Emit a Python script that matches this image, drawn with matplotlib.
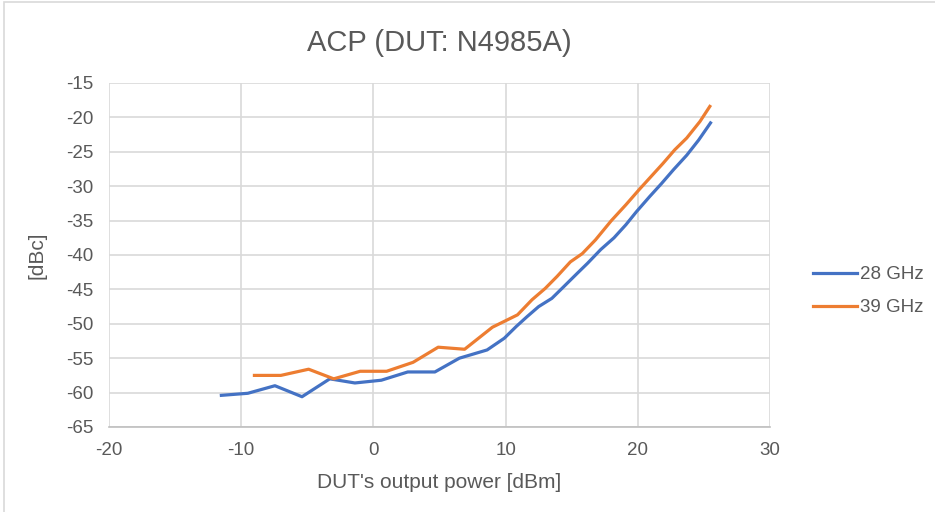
import matplotlib.pyplot as plt
from matplotlib.patches import Rectangle

# ACP vs. DUT output power, two carrier frequencies
p28 = [-11.5, -9.5, -7.45, -5.4, -3.3, -1.4, 0.6, 2.6, 4.65, 6.5, 8.6, 9.9,
       10.8, 11.6, 12.5, 13.5, 14.4, 15.4, 16.2, 17.2, 18.2, 19.1, 19.9,
       20.9, 21.8, 22.7, 23.7, 24.6, 25.5]
acp28 = [-60.4, -60.1, -59.0, -60.6, -58.0, -58.6, -58.2, -57.0, -57.0, -55.0,
         -53.8, -52.1, -50.4, -49.0, -47.5, -46.3, -44.6, -42.7, -41.2, -39.2,
         -37.5, -35.6, -33.7, -31.5, -29.6, -27.6, -25.5, -23.3, -20.8]

p39 = [-9.0, -7.0, -4.9, -3.0, -1.0, 1.0, 3.0, 4.9, 6.9, 9.0, 10.9, 12.0,
       13.0, 13.9, 14.9, 15.8, 16.8, 18.0, 19.1, 20.1, 21.0, 21.9, 22.8,
       23.7, 24.7, 25.45]
acp39 = [-57.5, -57.5, -56.6, -58.0, -56.9, -56.9, -55.6, -53.4, -53.7, -50.5,
         -48.7, -46.5, -44.85, -43.1, -41.0, -39.8, -37.8, -35.0, -32.7, -30.5,
         -28.6, -26.7, -24.7, -23.0, -20.6, -18.4]

xticks = [-20, -10, 0, 10, 20, 30]
yticks = [-65, -60, -55, -50, -45, -40, -35, -30, -25, -20, -15]

plt.rcParams['font.family'] = ['Liberation Sans', 'DejaVu Sans']
plt.rcParams['axes.unicode_minus'] = False
txt = '#595959'
grid = '#d9d9d9'

fig = plt.figure(figsize=(9.35, 5.12), dpi=100)
# outer chart frame
fig.patches.append(Rectangle((4 / 935, -0.1), 1.2, 1.1 - 2 / 512, transform=fig.transFigure,
                             fill=False, edgecolor=grid, linewidth=1.2))
ax = fig.add_axes([109 / 935, 1 - 427 / 512, (770 - 109) / 935, (427 - 83) / 512])

ax.plot(p28, acp28, color='#4472c4', linewidth=2.3, label='28 GHz')
ax.plot(p39, acp39, color='#ed7d31', linewidth=2.3, label='39 GHz')

ax.set_xlim(-20, 30)
ax.set_ylim(-65, -15)
ax.set_xticks(xticks)
ax.set_yticks(yticks)
ax.grid(True, color=grid, linewidth=1.2)
ax.set_axisbelow(True)
for s in ['top', 'right', 'left']:
    ax.spines[s].set_visible(False)
ax.spines['bottom'].set_color('#bfbfbf')
ax.spines['bottom'].set_linewidth(1.2)
ax.tick_params(axis='x', length=0, labelsize=13.5, labelcolor=txt, pad=11)
ax.tick_params(axis='y', length=0, labelsize=13.5, labelcolor=txt, pad=11)

ax.set_title('ACP (DUT: N4985A)', fontsize=21, color=txt, pad=23)
ax.set_xlabel("DUT's output power [dBm]", fontsize=15, color=txt, labelpad=10)
ax.set_ylabel('[dBc]', fontsize=15, color=txt, labelpad=14)

ax.legend(loc='center left', bbox_to_anchor=(1.065, 0.395), frameon=False,
          borderaxespad=0, borderpad=0,
          fontsize=13.5, labelcolor=txt, handlelength=2.35, handletextpad=0.18,
          labelspacing=0.85)

fig.savefig('out.png', dpi=100)
